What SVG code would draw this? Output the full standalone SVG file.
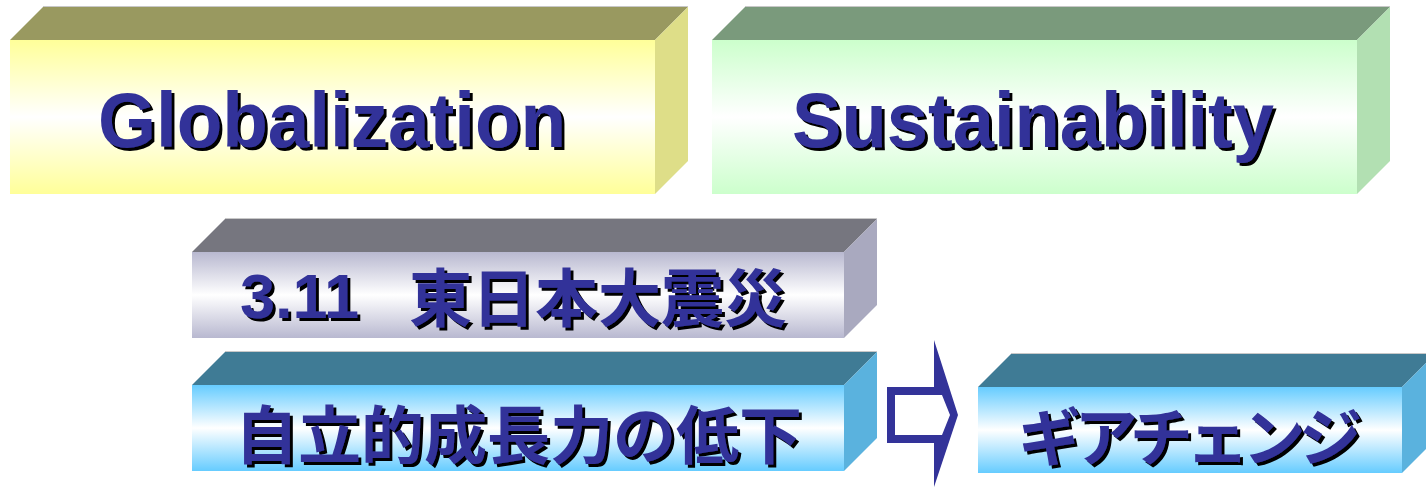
<svg xmlns="http://www.w3.org/2000/svg" width="1426" height="488" viewBox="0 0 1426 488">
<style>
.lat{font-family:"Liberation Sans",Arial,sans-serif;font-weight:bold;fill:#333399;filter:url(#sh)}
.jp{font-family:"Noto Sans CJK JP","Noto Sans CJK SC",sans-serif;font-weight:bold;fill:#333399;filter:url(#sh)}
.edge{stroke:#c8c8c8;stroke-width:1}
</style>
<defs>
<filter id="sh" x="-5%" y="-20%" width="110%" height="140%">
<feDropShadow dx="3" dy="3" stdDeviation="0" flood-color="#000" flood-opacity="1"/>
</filter>
<linearGradient id="gy" x1="0" y1="0" x2="0" y2="1">
<stop offset="0" stop-color="#FFFF99"/><stop offset="0.5" stop-color="#FFFFFF"/><stop offset="1" stop-color="#FFFF99"/>
</linearGradient>
<linearGradient id="gg" x1="0" y1="0" x2="0" y2="1">
<stop offset="0" stop-color="#CCFFCC"/><stop offset="0.5" stop-color="#FFFFFF"/><stop offset="1" stop-color="#CCFFCC"/>
</linearGradient>
<linearGradient id="gs" x1="0" y1="0" x2="0" y2="1">
<stop offset="0" stop-color="#B8B8D0"/><stop offset="0.5" stop-color="#FFFFFF"/><stop offset="1" stop-color="#B8B8D0"/>
</linearGradient>
<linearGradient id="gb" x1="0" y1="0" x2="0" y2="1">
<stop offset="0" stop-color="#66CCFF"/><stop offset="0.5" stop-color="#FFFFFF"/><stop offset="1" stop-color="#66CCFF"/>
</linearGradient>
</defs>

<g id="globalization">
<polygon points="10,40 43,7 688,7 655,40" fill="#999960"/>
<line x1="43" y1="6.5" x2="688" y2="6.5" class="edge"/>
<polygon points="655,40 688,7 688,161 655,194" fill="#DEDE88"/>
<rect x="10" y="40" width="645" height="154" fill="url(#gy)"/>
<text class="lat" x="98" y="147" font-size="78" textLength="468" lengthAdjust="spacingAndGlyphs">Globalization</text>
</g>

<g id="sustainability">
<polygon points="712,40 745,7 1390,7 1357,40" fill="#7A9A7C"/>
<line x1="745" y1="6.5" x2="1390" y2="6.5" class="edge"/>
<polygon points="1357,40 1390,7 1390,161 1357,194" fill="#B2E0B2"/>
<rect x="712" y="40" width="645" height="154" fill="url(#gg)"/>
<text class="lat" x="792" y="147" font-size="78" textLength="482" lengthAdjust="spacingAndGlyphs">Sustainability</text>
</g>

<g id="earthquake">
<polygon points="192,252 225,219 877,219 844,252" fill="#76767F"/>
<line x1="225" y1="218.5" x2="877" y2="218.5" class="edge"/>
<polygon points="844,252 877,219 877,305 844,338" fill="#A9A9BF"/>
<rect x="192" y="252" width="652" height="86" fill="url(#gs)"/>
<text><tspan class="lat" x="240" y="318" font-size="63">3.11</tspan><tspan class="jp" x="409" y="321" font-size="63">東日本大震災</tspan></text>
</g>

<g id="decline">
<polygon points="192,385 225,352 877,352 844,385" fill="#3F7B95"/>
<line x1="225" y1="351.5" x2="877" y2="351.5" class="edge"/>
<polygon points="844,385 877,352 877,438 844,471" fill="#5AB2DE"/>
<rect x="192" y="385" width="652" height="86" fill="url(#gb)"/>
<text class="jp" x="235" y="458" font-size="63">自立的成長力の低下</text>
</g>

<g id="connectors">
<polygon points="887,387 934,387 934,340 958,415 934,487 934,443 887,443" fill="#333399"/>
<polygon points="895,395 942,395 950,415 942,435 895,435" fill="#FFFFFF"/>
</g>

<g id="gearchange">
<polygon points="978,387 1011,354 1435,354 1402,387" fill="#3F7B95"/>
<line x1="1011" y1="353.5" x2="1435" y2="353.5" class="edge"/>
<polygon points="1402,387 1435,354 1435,440 1402,473" fill="#5AB2DE"/>
<rect x="978" y="387" width="424" height="86" fill="url(#gb)"/>
<text class="jp" x="1018" y="460" font-size="63" textLength="344" lengthAdjust="spacing">ギアチェンジ</text>
</g>
</svg>
